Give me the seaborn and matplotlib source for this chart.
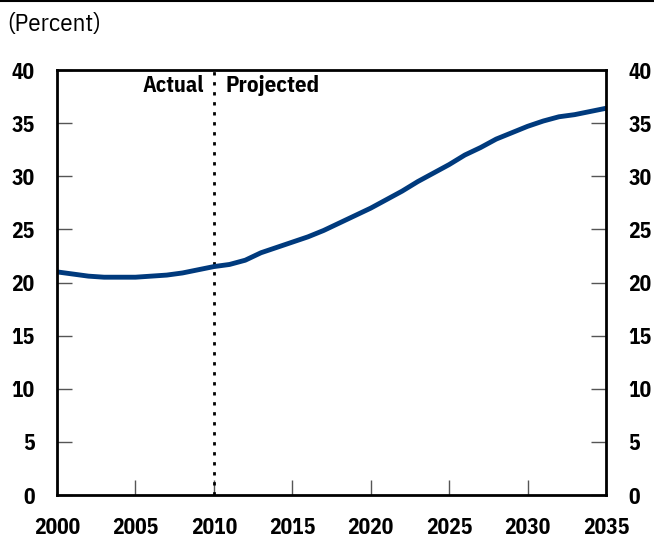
import matplotlib
matplotlib.use("Agg")
import matplotlib.pyplot as plt
import seaborn as sns
import pandas as pd
from matplotlib.lines import Line2D

# values (percent)
years = list(range(2000, 2036))
values = [21.0, 20.8, 20.6, 20.5, 20.5, 20.5, 20.6, 20.7, 20.9, 21.2,
          21.5, 21.7, 22.1, 22.8, 23.3, 23.8, 24.3, 24.9, 25.6, 26.3,
          27.0, 27.8, 28.6, 29.5, 30.3, 31.1, 32.0, 32.7, 33.5, 34.1,
          34.7, 35.2, 35.6, 35.8, 36.1, 36.4]
x_ticks = [2000, 2005, 2010, 2015, 2020, 2025, 2030, 2035]
y_ticks = [0, 5, 10, 15, 20, 25, 30, 35, 40]

df = pd.DataFrame({"Year": years, "Percent": values})

sns.set_style("white")
plt.rcParams["font.family"] = ["IBM Plex Sans Condensed", "DejaVu Sans"]
plt.rcParams["text.color"] = "black"
plt.rcParams["xtick.color"] = "#555555"
plt.rcParams["ytick.color"] = "#555555"
plt.rcParams["xtick.labelcolor"] = "black"
plt.rcParams["ytick.labelcolor"] = "black"

fig = plt.figure(figsize=(6.54, 5.42), dpi=100)
ax = fig.add_axes([0.0872, 0.0867, 0.8394, 0.7841])

sns.lineplot(data=df, x="Year", y="Percent", color="#003a7d", linewidth=3.5, ax=ax)
# actual / projected divider
ax.axvline(2010, color="black", linestyle=(0, (1.2, 2.4)), linewidth=2.0, zorder=1)

ax.set_xlim(2000, 2035)
ax.set_ylim(0, 40)
ax.set_xticks(x_ticks)
ax.set_yticks(y_ticks)
ax.set_xlabel("")
ax.set_ylabel("")

for s in ax.spines.values():
    s.set_visible(True)
    s.set_color("black")
    s.set_linewidth(2)

ax.tick_params(axis="both", direction="in", length=11, width=1)
ax.tick_params(axis="y", right=True, labelright=True, left=True, pad=16, labelsize=15.5)
ax.tick_params(axis="x", bottom=True, pad=16, labelsize=15.5)
for t in ax.yaxis.get_major_ticks() + ax.xaxis.get_major_ticks():
    t.label1.set_fontweight("bold")
    t.label2.set_fontweight("bold")

ax.text(2009.35, 38.5, "Actual", ha="right", va="center", fontsize=16, fontweight="bold")
ax.text(2010.75, 38.5, "Projected", ha="left", va="center", fontsize=16.5, fontweight="bold")

fig.text(0.011, 0.955, "(Percent)", ha="left", va="center", fontsize=18)
fig.add_artist(Line2D([0, 1], [0.998, 0.998], color="black", linewidth=1.5,
                      transform=fig.transFigure))

fig.savefig("out.png", dpi=100)
